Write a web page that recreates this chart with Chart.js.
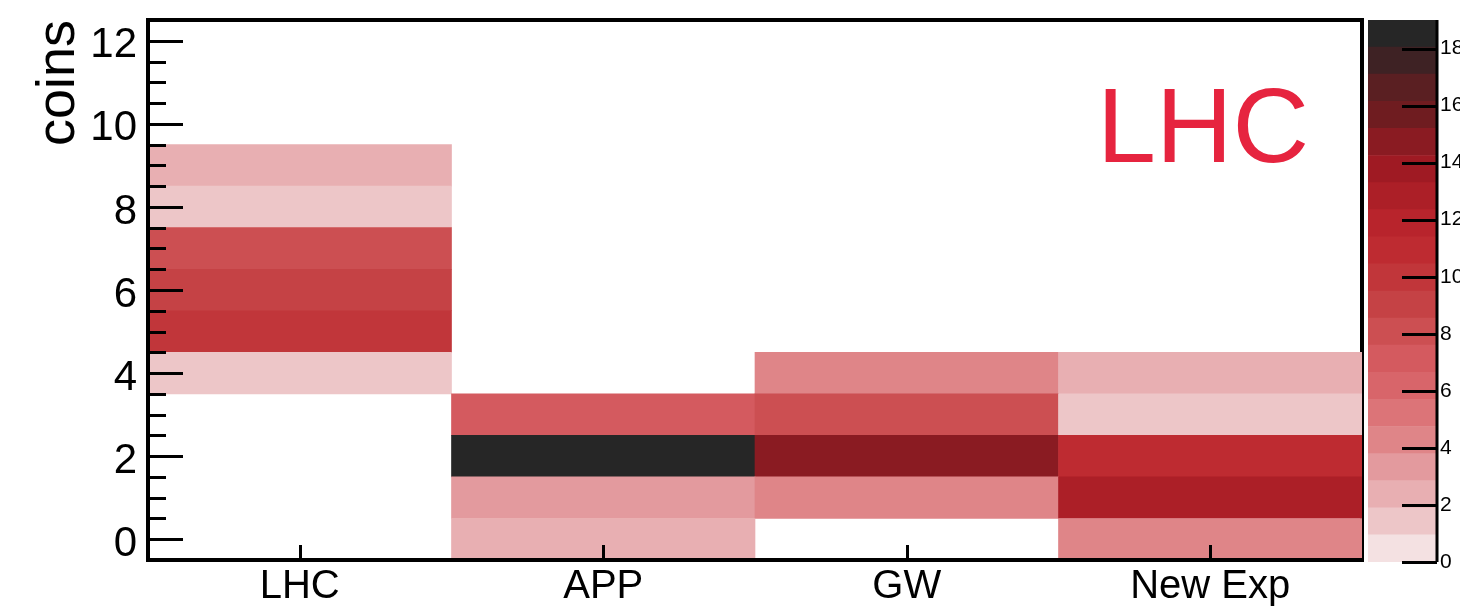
<!DOCTYPE html>
<html>
<head>
<meta charset="utf-8">
<script src="https://cdn.jsdelivr.net/npm/chart.js@4/dist/chart.umd.min.js"></script>
<style>
  html, body { margin: 0; padding: 0; background: #fff; overflow: hidden; }
  #wrap { position: relative; width: 1460px; height: 606px; }
  canvas { position: absolute; top: 0; }
  #main { left: 0; }
  #pal { left: 1366px; }
</style>
</head>
<body>
<div id="wrap">
  <canvas id="main" width="1366" height="606"></canvas>
  <canvas id="pal" width="94" height="606"></canvas>
</div>
<script>
// Experiments along x, number of coins along y, number of entries as colour
const experiments = ['LHC', 'APP', 'GW', 'New Exp'];
const coinBins = [0, 1, 2, 3, 4, 5, 6, 7, 8, 9, 10, 11, 12];

const countsLHC    = [0, 0, 0, 0, 1, 10, 9, 8, 1, 2, 0, 0, 0];
const countsAPP    = [2, 3, 19, 7, 0, 0, 0, 0, 0, 0, 0, 0, 0];
const countsGW     = [0, 4, 15, 8, 4, 0, 0, 0, 0, 0, 0, 0, 0];
const countsNewExp = [4, 13, 11, 1, 2, 0, 0, 0, 0, 0, 0, 0, 0];

const yTickValues = [0, 2, 4, 6, 8, 10, 12];
const zTickValues = [0, 2, 4, 6, 8, 10, 12, 14, 16, 18];

// colour palette, lowest contour first
const paletteColors = [
  '#f4e1e2', '#edc6c8', '#e8afb2', '#e39a9e', '#df8588',
  '#dc7478', '#d8656a', '#d45a5f', '#cc4f52', '#c54245',
  '#c1363a', '#be2b31', '#b8242c', '#ac1f27', '#9f1a23',
  '#8a1b22', '#6f1c20', '#5a1f22', '#3e2224', '#262626'
];

const countsByExperiment = [countsLHC, countsAPP, countsGW, countsNewExp];
const zMin = 0;
const zMax = Math.max(...countsByExperiment.flat());
const nLevels = paletteColors.length;

function colorFor(v) {
  const k = Math.min(Math.floor((v - zMin) / (zMax - zMin) * nLevels), nLevels - 1);
  return paletteColors[k];
}

const FONT = '"Liberation Sans", Arial, Helvetica, sans-serif';

// one floating-bar dataset per coin row; every experiment is a cell in it
const cellDatasets = coinBins.map((c, row) => ({
  data: countsByExperiment.map(col => col[row] > 0 ? [c - 0.5, c + 0.5] : null),
  backgroundColor: countsByExperiment.map(col => col[row] > 0 ? colorFor(col[row]) : 'rgba(0,0,0,0)'),
  borderWidth: 0,
  grouped: false,
  barPercentage: 1.0,
  categoryPercentage: 1.0
}));

// keep the plot area fixed regardless of label overhang
function noOverhang(s) {
  s.paddingTop = 0; s.paddingBottom = 0; s.paddingLeft = 0; s.paddingRight = 0;
}

// frame, inward ticks and the overlay label
const frameAxes = {
  id: 'frameAxes',
  beforeDatasetsDraw(chart) {
    const { ctx, chartArea: a } = chart;
    ctx.save();
    ctx.strokeStyle = '#000';
    ctx.lineWidth = 4;
    ctx.lineCap = 'square';
    ctx.beginPath();
    ctx.moveTo(a.left, a.top);
    ctx.lineTo(a.right, a.top);
    ctx.lineTo(a.right, a.bottom);
    ctx.stroke();
    ctx.restore();
  },
  afterDatasetsDraw(chart) {
    const { ctx, chartArea: a, scales: { x, y } } = chart;
    ctx.save();
    ctx.strokeStyle = '#000';
    ctx.lineWidth = 4;
    ctx.lineCap = 'square';
    ctx.beginPath();
    ctx.moveTo(a.left, a.top);
    ctx.lineTo(a.left, a.bottom);
    ctx.lineTo(a.right, a.bottom);
    ctx.stroke();

    ctx.lineCap = 'butt';
    ctx.lineWidth = 3;
    const minorStep = 0.5;
    for (let v = yTickValues[0]; v <= yTickValues[yTickValues.length - 1] + 1e-9; v += minorStep) {
      const py = Math.round(y.getPixelForValue(v)) + 0.5;
      const isMajor = yTickValues.includes(v);
      ctx.beginPath();
      ctx.moveTo(a.left, py);
      ctx.lineTo(a.left + (isMajor ? 35 : 18), py);
      ctx.stroke();
    }
    experiments.forEach((_, i) => {
      const px = Math.round(x.getPixelForValue(i)) + 0.5;
      ctx.beginPath();
      ctx.moveTo(px, a.bottom);
      ctx.lineTo(px, a.bottom - 15);
      ctx.stroke();
    });
    ctx.restore();
  },
  afterDraw(chart) {
    const { ctx } = chart;
    ctx.save();
    ctx.font = '106px ' + FONT;
    ctx.fillStyle = '#e6243f';
    ctx.textAlign = 'left';
    ctx.textBaseline = 'alphabetic';
    ctx.fillText('LHC', 1097, 162);
    ctx.restore();
  }
};

new Chart(document.getElementById('main'), {
  type: 'bar',
  data: { labels: experiments, datasets: cellDatasets },
  options: {
    responsive: false,
    animation: false,
    devicePixelRatio: 1,
    layout: { autoPadding: false, padding: { left: 0, right: 4, top: 20, bottom: 0 } },
    plugins: { legend: { display: false }, tooltip: { enabled: false } },
    scales: {
      x: {
        type: 'category',
        offset: true,
        grid: { display: false, drawTicks: false },
        border: { display: false },
        ticks: { color: '#000', font: { family: FONT, size: 40 }, padding: 3, maxRotation: 0, autoSkip: false },
        afterFit(s) { s.height = 46; noOverhang(s); }
      },
      y: {
        type: 'linear',
        min: -0.5,
        max: 12.5,
        grid: { display: false, drawTicks: false },
        border: { display: false },
        ticks: { color: '#000', font: { family: FONT, size: 42 }, padding: 11, labelOffset: 5, autoSkip: false },
        afterBuildTicks(s) { s.ticks = yTickValues.map(v => ({ value: v })); },
        title: {
          display: true,
          text: 'coins',
          align: 'end',
          color: '#000',
          font: { family: FONT, size: 54 },
          padding: { top: 27, bottom: 0 }
        },
        afterFit(s) { s.width = 148; noOverhang(s); }
      }
    }
  },
  plugins: [frameAxes]
});

// colour scale: one band per contour level
const levelEdges = paletteColors.map((_, k) => [zMin + (zMax - zMin) * k / nLevels, zMin + (zMax - zMin) * (k + 1) / nLevels]);

const paletteAxis = {
  id: 'paletteAxis',
  afterDatasetsDraw(chart) {
    const { ctx, chartArea: a, scales: { y } } = chart;
    ctx.save();
    ctx.strokeStyle = '#000';
    ctx.lineWidth = 3;
    ctx.beginPath();
    ctx.moveTo(a.right, a.top);
    ctx.lineTo(a.right, a.bottom);
    ctx.stroke();
    zTickValues.forEach(v => {
      const py = Math.round(y.getPixelForValue(v)) + 0.5;
      ctx.beginPath();
      ctx.moveTo(a.right, py);
      ctx.lineTo(a.right - 35, py);
      ctx.stroke();
    });
    ctx.restore();
  }
};

new Chart(document.getElementById('pal'), {
  type: 'bar',
  data: {
    labels: [''],
    datasets: levelEdges.map((e, k) => ({
      data: [e],
      backgroundColor: paletteColors[k],
      borderWidth: 0,
      grouped: false,
      barPercentage: 1.0,
      categoryPercentage: 1.0
    }))
  },
  options: {
    responsive: false,
    animation: false,
    devicePixelRatio: 1,
    layout: { autoPadding: false, padding: { left: 2, right: 0, top: 20, bottom: 44 } },
    plugins: { legend: { display: false }, tooltip: { enabled: false } },
    scales: {
      x: { display: false, offset: true },
      y: {
        type: 'linear',
        position: 'right',
        min: zMin,
        max: zMax,
        grid: { display: false, drawTicks: false },
        border: { display: false },
        ticks: { color: '#000', font: { family: FONT, size: 21 }, padding: 3, autoSkip: false },
        afterBuildTicks(s) { s.ticks = zTickValues.map(v => ({ value: v })); },
        afterFit(s) { s.width = 23; noOverhang(s); }
      }
    }
  },
  plugins: [paletteAxis]
});
</script>
</body>
</html>
